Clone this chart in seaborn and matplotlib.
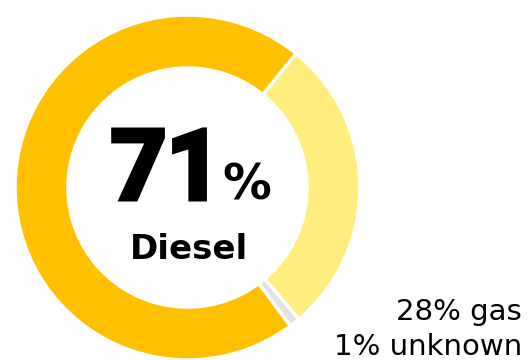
import matplotlib
matplotlib.use("Agg")
import matplotlib.pyplot as plt
import matplotlib.patheffects as pe
import seaborn as sns

sns.set_theme(style="white")
plt.rcParams['font.family'] = ['DejaVu Sans']

categories = ["gas", "unknown", "diesel"]
values = [28, 1, 71]
colors = ["#FFEE7D", "#E2E2E2", "#FFC000"]
label_texts = ["28% gas", "1% unknown"]
center_value = "71"
center_label = "Diesel"

fig = plt.figure(figsize=(5.29, 3.6), dpi=100)
ax = fig.add_axes([0, 0, 1, 1])
ax.pie(values, colors=colors, startangle=51, counterclock=False, radius=1.0,
       wedgeprops=dict(width=0.307, edgecolor="white", linewidth=2.5))
ax.set_aspect("equal")
ax.set_xlim(-1.087, 1.980)
ax.set_ylim(-1.0, 1.087)
ax.axis("off")

stroke = [pe.withStroke(linewidth=3.5, foreground="black", joinstyle="miter")]
ax.text(-0.445, -0.067, center_value, ha="left", va="baseline", fontsize=70,
        fontweight="bold", family="Roboto", color="black", path_effects=stroke)
ax.text(0.203, -0.067, "%", ha="left", va="baseline", fontsize=35,
        fontweight="bold", color="black")
ax.text(0.009, -0.414, center_label, ha="center", va="baseline", fontsize=24.5,
        fontweight="bold", color="black")

ax.text(1.939, -0.768, label_texts[0], ha="right", va="baseline", fontsize=21,
        color="black")
ax.text(1.939, -0.972, label_texts[1], ha="right", va="baseline", fontsize=21,
        color="black")

fig.savefig("out.png", dpi=100)
